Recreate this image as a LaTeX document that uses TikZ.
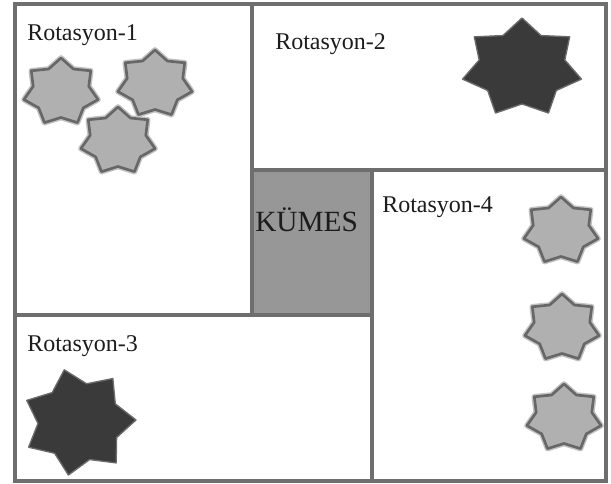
\documentclass[tikz,border=0pt]{standalone}
\usepackage{fontspec}
\setmainfont{Liberation Serif}
\definecolor{frame}{HTML}{6E6E6E}
\definecolor{coop}{HTML}{979797}
\definecolor{lightstar}{HTML}{B0B0B0}
\definecolor{lightedge}{HTML}{676767}
\definecolor{darkstar}{HTML}{3A3A3A}
\definecolor{ink}{HTML}{1C1C1C}
\tikzset{
  plot/.style={draw=frame, line width=2.8pt, fill=white},
  label/.style={anchor=base west, inner sep=0pt, text=ink, font=\fontsize{18pt}{20pt}\selectfont},
  halo/.style={draw=lightedge!40, line width=4.2pt, line join=round},
  graystar/.style={fill=lightstar, draw=lightedge, line width=2pt, line join=round},
  blackstar/.style={fill=darkstar, draw=darkstar!75, line width=1pt, line join=round},
}
% seven-pointed star: style, centre x, centre y, x radius, y radius, rotation, inner ratio
\newcommand{\heptastar}[7]{%
  \path[#1] plot[variable=\k, samples at={0,...,13}]
    ({#2+(#4)*ifthenelse(mod(\k,2)==0,1,#7)*cos(90+#6+\k*360/14)},
     {#3-(#5)*ifthenelse(mod(\k,2)==0,1,#7)*sin(90+#6+\k*360/14)}) -- cycle;}
\begin{document}
\begin{tikzpicture}[x=0.75pt,y=-0.75pt]
\useasboundingbox (0,0) rectangle (611,484);
\fill[white] (0,0) rectangle (611,484);

% plots around the coop
\draw[plot] (15,4) rectangle (252,315);
\draw[plot] (252,4) rectangle (606,170);
\draw[plot] (372,170) rectangle (606,481);
\draw[plot] (15,315) rectangle (372,481);
\fill[coop] (253.6,171.6) rectangle (370.4,313.4);

% labels
\node[label] (l1) at (27,41) {Rotasyon-1};
\node[label] (l2) at (275,50) {Rotasyon-2};
\node[label] (l3) at (27,352) {Rotasyon-3};
\node[label] (l4) at (382,213) {Rotasyon-4};
\node[label, font=\fontsize{22pt}{24pt}\selectfont] (coop) at (255,232) {KÜMES};

% light stars
\foreach \cx/\cy in {61/92, 155/84, 118/141, 561/231, 562/328, 564/418}{
  \heptastar{halo}{\cx}{\cy}{38}{34}{0}{0.75}
  \heptastar{graystar}{\cx}{\cy}{38}{34}{0}{0.75}
}

% dark stars
\heptastar{blackstar}{522}{68}{61}{50}{0}{0.72}
\heptastar{blackstar}{79}{422}{57}{54}{15}{0.72}
\end{tikzpicture}
\end{document}
